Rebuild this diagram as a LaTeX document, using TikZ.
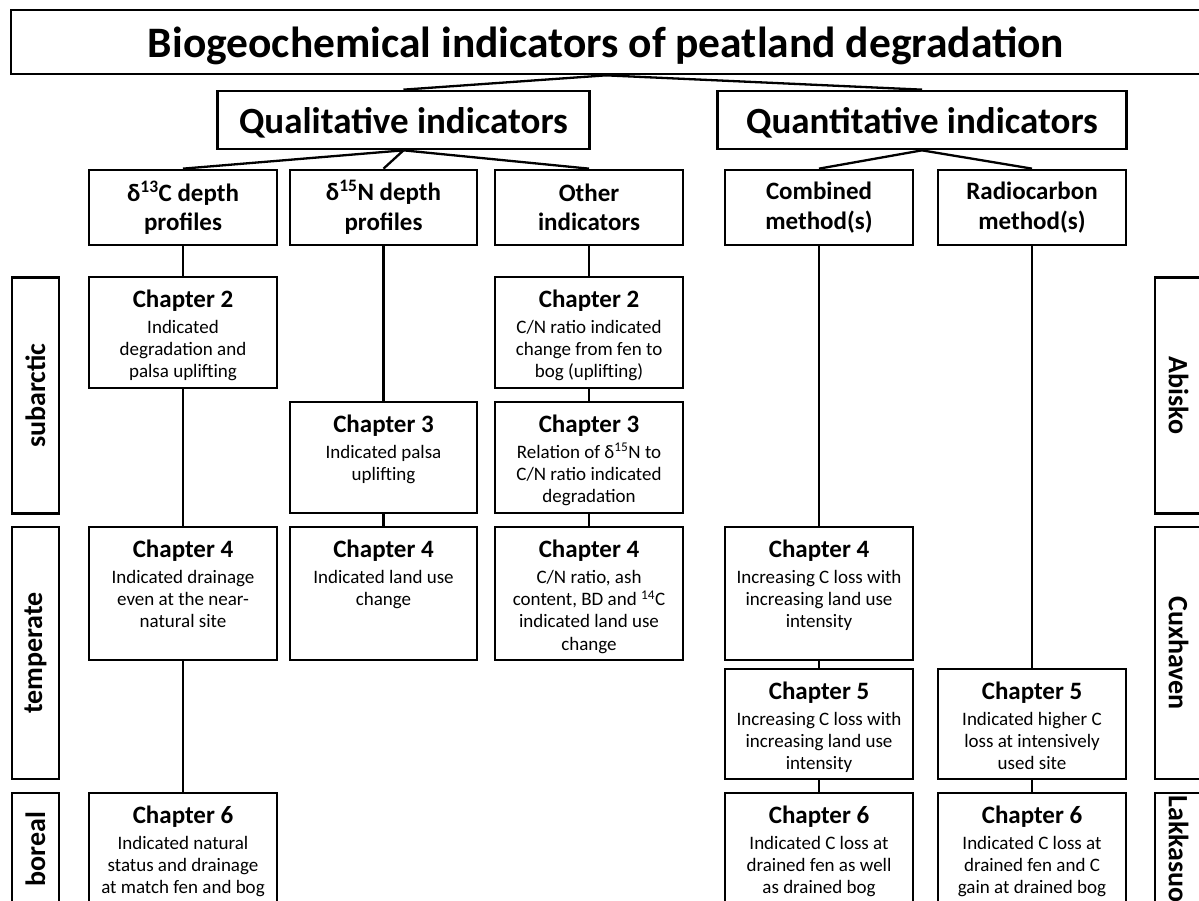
\documentclass[tikz,border=0pt]{standalone}
\usepackage{fontspec}
\setmainfont{Carlito}
\tikzset{
  box/.style={draw, line width=2.7pt, inner sep=0pt, align=center},
  conn/.style={line width=2.3pt},
  titlefont/.style={font=\fontsize{43.5}{50}\selectfont\bfseries},
  levone/.style={font=\fontsize{37}{42}\selectfont\bfseries},
  levtwo/.style={font=\fontsize{25}{29.5}\selectfont\bfseries},
  ctext/.style={inner sep=0pt, align=center, font=\fontsize{19}{22.3}\selectfont},
  lbox/.style={draw, line width=2.7pt, inner sep=0pt, minimum height=47, font=\fontsize{28}{32}\selectfont\bfseries},
}
\newcommand{\chead}{\fontsize{25}{25}\selectfont\bfseries}
\newcommand{\chapbox}[7]{%
  \node[box, minimum width=#4, minimum height=#5] (#1) at ({#2},{#3+#5/2}) {};
  \node[ctext, anchor=north] (#1-t) at ([yshift=-14pt]#1.north) {{\chead #6}\\[3.5pt]#7};
}
\begin{document}
\begin{tikzpicture}[x=1pt, y=-1pt]
\useasboundingbox (0,0) rectangle (1199,901);
\clip (0,0) rectangle (1199,901);

% title
\node[box, titlefont, text depth=0pt, minimum width=1190, minimum height=64] (title) at (606,42) {Biogeochemical indicators of peatland degradation};

% level 1
\node[box, levone, text depth=0pt, minimum width=372, minimum height=58] (qual) at (403.5,120) {Qualitative indicators};
\node[box, levone, text depth=0pt, minimum width=409, minimum height=58] (quant) at (922,120) {Quantitative indicators};

% level 2
\node[box, levtwo, minimum width=188, minimum height=75] (d13) at (183,207.5) {δ\textsuperscript{13}C depth\\profiles};
\node[box, levtwo, minimum width=187, minimum height=75] (d15) at (383.5,207.5) {δ\textsuperscript{15}N depth\\profiles};
\node[box, levtwo, minimum width=188, minimum height=75] (other) at (589,207.5) {Other\\indicators};
\node[box, levtwo, minimum width=188, minimum height=75] (comb) at (819,207.5) {Combined\\method(s)};
\node[box, levtwo, minimum width=188, minimum height=75] (radio) at (1032,207.5) {Radiocarbon\\method(s)};

% side labels
\node[lbox, rotate=90, minimum width=236] (sub) at (35.5,395.5) {subarctic};
\node[lbox, rotate=90, minimum width=252] (temp) at (35.5,653) {temperate};
\node[lbox, rotate=90, minimum width=112] (bor) at (35.5,849) {boreal};
\node[lbox, rotate=-90, minimum width=236] (abi) at (1178.5,395.5) {Abisko};
\node[lbox, rotate=-90, minimum width=252] (cux) at (1178.5,653) {Cuxhaven};
\node[lbox, rotate=-90, minimum width=112] (lak) at (1178.5,849) {Lakkasuo};

% chapter boxes
\chapbox{c1r1}{183}{277}{188}{111}{Chapter 2}{Indicated\\degradation and\\palsa uplifting}
\chapbox{c1r3}{183}{527}{188}{133}{Chapter 4}{Indicated drainage\\even at the near-\\natural site}
\chapbox{c1r5}{183}{793}{188}{112}{Chapter 6}{Indicated natural\\status and drainage\\at match fen and bog}

\chapbox{c2r2}{383.5}{402}{187}{111}{Chapter 3}{Indicated palsa\\uplifting}
\chapbox{c2r3}{383.5}{527}{187}{133}{Chapter 4}{Indicated land use\\change}

\chapbox{c3r1}{589}{277}{188}{111}{Chapter 2}{C/N ratio indicated\\change from fen to\\bog (uplifting)}
\chapbox{c3r2}{589}{402}{188}{111}{Chapter 3}{Relation of δ\textsuperscript{15}N to\\C/N ratio indicated\\degradation}
\chapbox{c3r3}{589}{527}{188}{133}{Chapter 4}{C/N ratio, ash\\content, BD and \textsuperscript{14}C\\indicated land use\\change}

\chapbox{c4r3}{819}{527}{188}{133}{Chapter 4}{Increasing C loss with\\increasing land use\\intensity}
\chapbox{c4r4}{819}{669}{188}{110}{Chapter 5}{Increasing C loss with\\increasing land use\\intensity}
\chapbox{c4r5}{819}{793}{188}{112}{Chapter 6}{Indicated C loss at\\drained fen as well\\as drained bog}

\chapbox{c5r4}{1032}{669}{188}{110}{Chapter 5}{Indicated higher C\\loss at intensively\\used site}
\chapbox{c5r5}{1032}{793}{188}{112}{Chapter 6}{Indicated C loss at\\drained fen and C\\gain at drained bog}

% connectors
\draw[conn] (title.south) -- (qual.north);
\draw[conn] (title.south) -- (quant.north);
\draw[conn] (qual.south) -- (d13.north);
\draw[conn] (qual.south) -- (d15.north);
\draw[conn] (qual.south) -- (other.north);
\draw[conn] (quant.south) -- (comb.north);
\draw[conn] (quant.south) -- (radio.north);

\draw[conn] (d13.south) -- (c1r1.north);
\draw[conn] (c1r1.south) -- (c1r3.north);
\draw[conn] (c1r3.south) -- (c1r5.north);

\draw[conn] (d15.south) -- (c2r2.north);
\draw[conn] (c2r2.south) -- (c2r3.north);

\draw[conn] (other.south) -- (c3r1.north);
\draw[conn] (c3r1.south) -- (c3r2.north);
\draw[conn] (c3r2.south) -- (c3r3.north);

\draw[conn] (comb.south) -- (c4r3.north);
\draw[conn] (c4r3.south) -- (c4r4.north);
\draw[conn] (c4r4.south) -- (c4r5.north);

\draw[conn] (radio.south) -- (c5r4.north);
\draw[conn] (c5r4.south) -- (c5r5.north);
\end{tikzpicture}
\end{document}
